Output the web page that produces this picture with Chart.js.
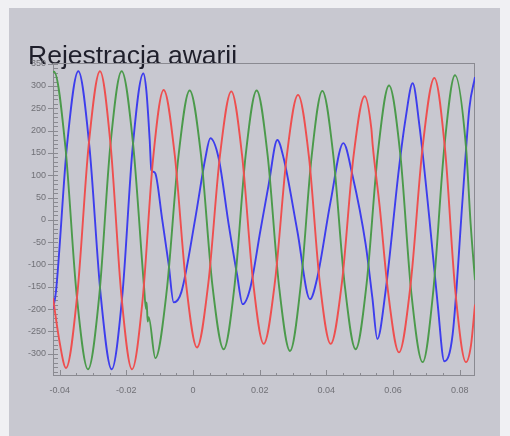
<!DOCTYPE html>
<html><head><meta charset="utf-8">
<script src="https://cdn.jsdelivr.net/npm/chart.js@4.4.0/dist/chart.umd.min.js"></script>
<style>
html,body{margin:0;padding:0;background:#f0f0f3;width:510px;height:436px;overflow:hidden}
#card{position:absolute;left:9px;top:8px;width:491px;height:428px;background:#c8c8d0}
canvas{display:block}
</style></head><body>
<div id="card"><canvas id="c" width="491" height="428"></canvas></div>
<script>
const chartTitle = 'Rejestracja awarii';
const xTickValues = [-0.04, -0.02, 0, 0.02, 0.04, 0.06, 0.08];
const xTickLabels = ['-0.04', '-0.02', '0', '0.02', '0.04', '0.06', '0.08'];
const yTickValues = [-300, -250, -200, -150, -100, -50, 0, 50, 100, 150, 200, 250, 300, 350];
const yTickLabels = ['-300', '-250', '-200', '-150', '-100', '-50', '0', '50', '100', '150', '200', '250', '300', '350'];

const redT = [-0.0420,-0.0400,-0.0381,-0.0347,-0.0313,-0.0279,-0.0247,-0.0215,-0.0183,-0.0151,-0.0120,-0.0088,-0.0055,-0.0021,0.0012,0.0046,0.0081,0.0115,0.0147,0.0180,0.0212,0.0246,0.0281,0.0315,0.0348,0.0380,0.0413,0.0447,0.0481,0.0515,0.0535,0.0539,0.0560,0.0584,0.0618,0.0653,0.0689,0.0724,0.0756,0.0787,0.0819,0.0834,0.0846];
const redV = [-175,-275,-332,-166,167,333,166,-168,-335,-178,135,291,147,-142,-286,-142,145,288,146,-137,-278,-138,141,280,140,-138,-278,-139,139,277,205,168,30,-154,-297,-143,164,318,159,-160,-319,-281,-190];

const greenT = [-0.0420,-0.0417,-0.0383,-0.0349,-0.0315,-0.0281,-0.0248,-0.0214,-0.0180,-0.0147,-0.0141,-0.0139,-0.0136,-0.0133,-0.0113,-0.0079,-0.0044,-0.0010,0.0024,0.0058,0.0092,0.0125,0.0158,0.0191,0.0224,0.0258,0.0291,0.0323,0.0356,0.0388,0.0421,0.0455,0.0488,0.0521,0.0555,0.0588,0.0622,0.0655,0.0689,0.0721,0.0754,0.0786,0.0819,0.0833,0.0846];
const greenV = [331,332,165,-168,-335,-168,166,333,172,-149,-200,-185,-228,-218,-310,-160,140,290,145,-145,-290,-145,145,290,144,-148,-294,-148,143,289,144,-145,-290,-142,153,301,146,-164,-319,-158,163,324,163,-10,-135];

const blueT = [-0.0420,-0.0411,-0.0378,-0.0344,-0.0311,-0.0277,-0.0244,-0.0212,-0.0181,-0.0149,-0.0140,-0.0130,-0.0125,-0.0120,-0.0113,-0.0093,-0.0073,-0.0058,-0.0035,0.0007,0.0037,0.0052,0.0077,0.0107,0.0132,0.0149,0.0172,0.0202,0.0227,0.0253,0.0272,0.0313,0.0351,0.0373,0.0413,0.0451,0.0478,0.0518,0.0538,0.0553,0.0578,0.0618,0.0638,0.0659,0.0679,0.0709,0.0734,0.0754,0.0779,0.0809,0.0829,0.0846];
const blueV = [-200,-160,167,333,166,-168,-335,-169,162,328,290,180,112,108,104,4,-100,-185,-162,4,138,183,138,-10,-122,-189,-152,-25,79,179,138,-25,-178,-129,42,172,101,-55,-174,-267,-158,116,228,306,213,4,-189,-317,-256,49,250,320];

const toXY = (ts, vs) => ts.map((t, i) => ({x: t, y: vs[i]}));

const axisColor = '#8a8a91';
const labelColor = '#707076';

const framePlugin = {
  id: 'frame',
  beforeDatasetsDraw(chart) {
    const {ctx, chartArea: a, scales: {x, y}} = chart;
    ctx.save();
    ctx.strokeStyle = axisColor;
    ctx.lineWidth = 1;
    ctx.strokeRect(Math.round(a.left) + 0.5, Math.round(a.top) + 0.5, Math.round(a.width) - 1, Math.round(a.height) - 1);
    ctx.beginPath();
    yTickValues.forEach(v => {
      const py = Math.round(y.getPixelForValue(v)) + 0.5;
      ctx.moveTo(a.left - 5, py); ctx.lineTo(a.left, py);
    });
    for (let v = -340; v <= 350; v += 10) {
      const py = Math.round(y.getPixelForValue(v)) + 0.5;
      ctx.moveTo(a.left, py); ctx.lineTo(a.left + 5, py);
    }
    for (let k = -8; k <= 16; k++) {
      const v = k * 0.005;
      const px = Math.round(x.getPixelForValue(v)) + 0.5;
      if (px < a.left || px > a.right) continue;
      const len = (k % 4 === 0) ? 6 : 3;
      ctx.moveTo(px, a.bottom); ctx.lineTo(px, a.bottom - len);
    }
    ctx.stroke();
    ctx.restore();
  }
};

const lineDs = (label, data, color) => ({
  label, data, borderColor: color, borderWidth: 1.9, pointRadius: 0,
  fill: false, cubicInterpolationMode: 'monotone'
});

new Chart(document.getElementById('c'), {
  type: 'line',
  data: {
    datasets: [
      lineDs('L1', toXY(redT, redV), '#ee4f4f'),
      lineDs('L2', toXY(greenT, greenV), '#4b9a4b'),
      lineDs('L3', toXY(blueT, blueV), '#3d3ded')
    ]
  },
  options: {
    responsive: false,
    animation: false,
    devicePixelRatio: 1,
    layout: {padding: {left: 19, right: 25, top: 33, bottom: 30}},
    plugins: {
      legend: {display: false},
      tooltip: {enabled: false},
      title: {
        display: true, text: chartTitle, align: 'start', color: '#1f1f2b',
        font: {family: "'Liberation Sans', Arial, sans-serif", size: 26.5, weight: 'normal'},
        padding: {top: 0, bottom: -10}
      }
    },
    scales: {
      x: {
        type: 'linear', min: -0.042, max: 0.0846,
        afterBuildTicks: s => { s.ticks = xTickValues.map(v => ({value: v})); },
        afterFit: s => { s.height = 30; },
        grid: {display: true, drawOnChartArea: false, drawTicks: false},
        border: {display: false},
        ticks: {
          padding: 9, color: labelColor, maxRotation: 0, autoSkip: false,
          font: {family: "'Liberation Sans', Arial, sans-serif", size: 9},
          callback: (v) => { const i = xTickValues.findIndex(t => Math.abs(t - v) < 1e-9); return i >= 0 ? xTickLabels[i] : ''; }
        }
      },
      y: {
        type: 'linear', min: -350, max: 352,
        afterBuildTicks: s => { s.ticks = yTickValues.map(v => ({value: v})); },
        afterFit: s => { s.width = 25; },
        grid: {display: true, drawOnChartArea: false, drawTicks: false},
        border: {display: false},
        ticks: {
          padding: 7, color: labelColor, autoSkip: false,
          font: {family: "'Liberation Sans', Arial, sans-serif", size: 9},
          callback: (v) => { const i = yTickValues.indexOf(v); return i >= 0 ? yTickLabels[i] : ''; }
        }
      }
    }
  },
  plugins: [framePlugin]
});
</script>
</body></html>
